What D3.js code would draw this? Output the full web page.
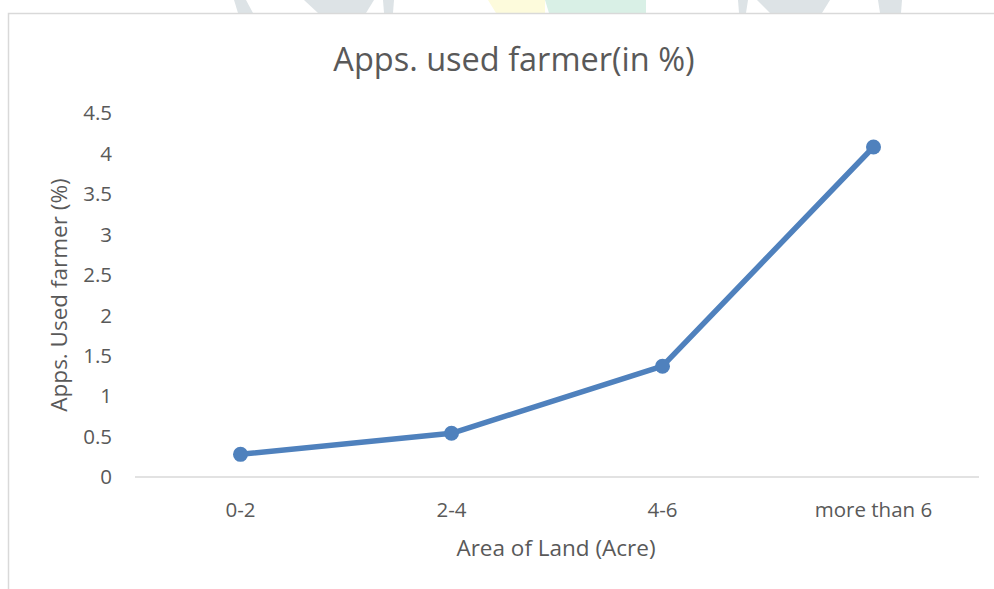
<!DOCTYPE html>
<html>
<head>
<meta charset="utf-8">
<script src="https://cdn.jsdelivr.net/npm/d3@7"></script>
<style>
    body { margin: 0; background: #fff; }
    .tick-label { fill: #595959; font-family: "Open Sans", sans-serif; font-size: 20.5px; }
    .axis-title { fill: #595959; font-family: "Open Sans", sans-serif; font-size: 22.5px; }
    .chart-title { fill: #595959; font-family: "Open Sans", sans-serif; font-size: 32.5px; }
</style>
</head>
<body>
<div id="chart"></div>
<script>
// data
var categories = ["0-2", "2-4", "4-6", "more than 6"];
var values = [0.28, 0.54, 1.37, 4.08];
var yTicks = [0, 0.5, 1, 1.5, 2, 2.5, 3, 3.5, 4, 4.5];

var width = 994, height = 589;
var plot = {left: 135, right: 979, top: 113, bottom: 477};

var svg = d3.select("#chart").append("svg")
    .attr("width", width)
    .attr("height", height);

// faint watermark bits peeking above the chart frame
var marks = [
    {pts: [[234, 0], [246, 0], [253, 13], [238, 13]], c: "#dde3e6"},
    {pts: [[304, 0], [374, 0], [366, 13], [318, 13]], c: "#dde3e6"},
    {pts: [[383, 0], [394, 0], [393, 13], [384, 13]], c: "#dde3e6"},
    {pts: [[488, 0], [545, 0], [545, 13], [496, 13]], c: "#fdfbdc"},
    {pts: [[545, 0], [646, 0], [646, 13], [549, 13]], c: "#d9f0e6"},
    {pts: [[738, 0], [748, 0], [746, 13], [739, 13]], c: "#dde3e6"},
    {pts: [[757, 0], [830, 0], [822, 13], [770, 13]], c: "#dde3e6"},
    {pts: [[878, 0], [902, 0], [901, 13], [880, 13]], c: "#dde3e6"}
];
svg.selectAll(".wm").data(marks).enter().append("polygon")
    .attr("class", "wm")
    .attr("points", function(d) { return d.pts.join(" "); })
    .attr("fill", function(d) { return d.c; });

// chart frame (only top and left edges are visible)
svg.append("path")
    .attr("d", "M8.5," + height + "V13.5H" + width)
    .attr("fill", "none")
    .attr("stroke", "#d9d9d9")
    .attr("stroke-width", 1.5);

var xScale = d3.scalePoint()
    .domain(categories)
    .range([plot.left, plot.right])
    .padding(0.5);

var yScale = d3.scaleLinear()
    .domain([0, 4.5])
    .range([plot.bottom, plot.top]);

// y tick labels
svg.selectAll(".y-label").data(yTicks).enter().append("text")
    .attr("class", "tick-label y-label")
    .attr("x", plot.left - 23)
    .attr("y", function(d) { return yScale(d); })
    .attr("dy", "0.36em")
    .attr("text-anchor", "end")
    .text(function(d) { return d; });

// baseline
svg.append("line")
    .attr("x1", plot.left)
    .attr("x2", plot.right)
    .attr("y1", yScale(0))
    .attr("y2", yScale(0))
    .attr("stroke", "#d9d9d9")
    .attr("stroke-width", 1.5);

// x tick labels
svg.selectAll(".x-label").data(categories).enter().append("text")
    .attr("class", "tick-label x-label")
    .attr("x", function(d) { return xScale(d); })
    .attr("y", 517)
    .attr("text-anchor", "middle")
    .text(function(d) { return d; });

// titles
svg.append("text")
    .attr("class", "chart-title")
    .attr("x", 514)
    .attr("y", 71)
    .attr("text-anchor", "middle")
    .text("Apps. used farmer(in %)");

svg.append("text")
    .attr("class", "axis-title")
    .attr("x", 556)
    .attr("y", 556)
    .attr("text-anchor", "middle")
    .text("Area of Land (Acre)");

svg.append("text")
    .attr("class", "axis-title")
    .attr("transform", "translate(67,295) rotate(-90)")
    .attr("text-anchor", "middle")
    .text("Apps. Used farmer (%)");

// line + markers
var line = d3.line()
    .x(function(d, i) { return xScale(categories[i]); })
    .y(function(d) { return yScale(d); });

svg.append("path")
    .datum(values)
    .attr("d", line)
    .attr("fill", "none")
    .attr("stroke", "#4f81bd")
    .attr("stroke-width", 5.5)
    .attr("stroke-linejoin", "round");

svg.selectAll(".dot").data(values).enter().append("circle")
    .attr("class", "dot")
    .attr("cx", function(d, i) { return xScale(categories[i]); })
    .attr("cy", function(d) { return yScale(d); })
    .attr("r", 7.5)
    .attr("fill", "#4f81bd");
</script>
</body>
</html>
